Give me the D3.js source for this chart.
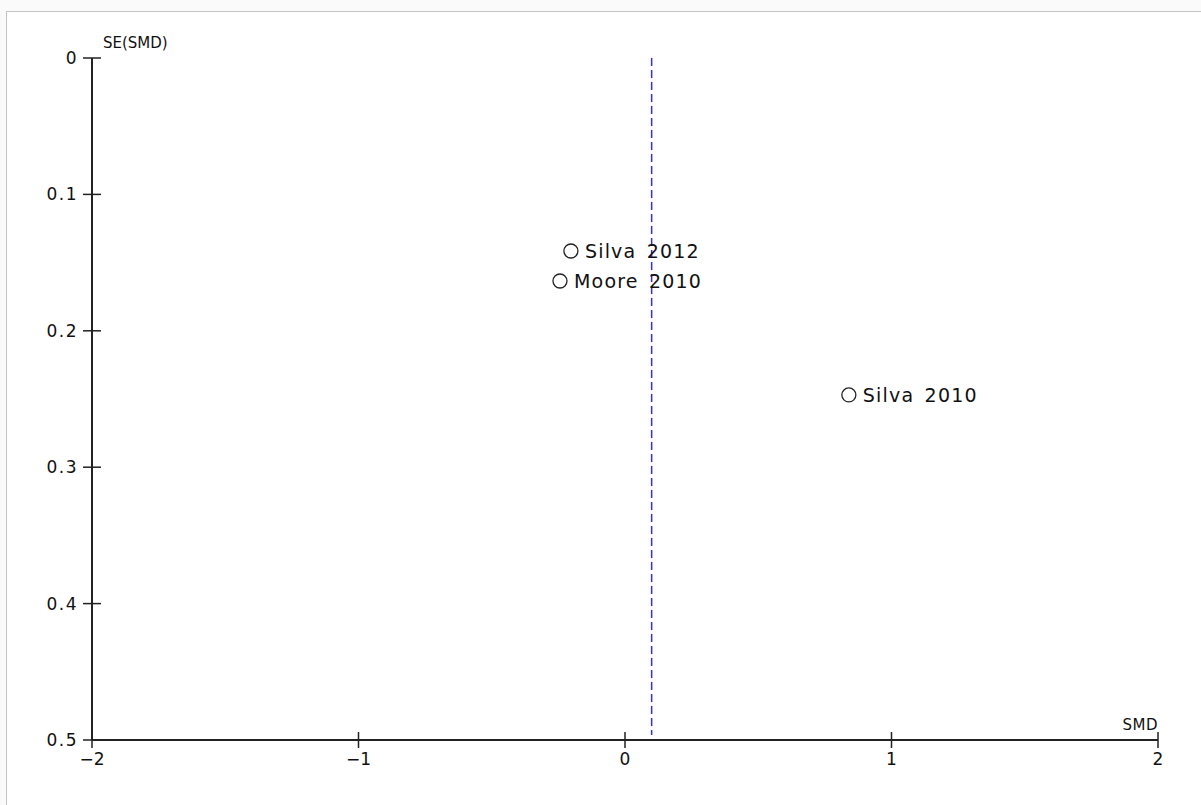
<!DOCTYPE html>
<html>
<head>
<meta charset="utf-8">
<script src="https://cdn.jsdelivr.net/npm/d3@7"></script>
<style>
  body { margin: 0; background: #fafafa; }
  #frame { position: absolute; left: 6px; top: 11px; width: 1195px; height: 794px;
           background: #fff; border-top: 1px solid #c4c4c4; border-left: 1px solid #c4c4c4; }
  svg { display: block; }
  text { font-family: "DejaVu Sans", sans-serif; fill: #111; }
</style>
</head>
<body>
<div id="frame"></div>
<svg id="chart" width="1201" height="805" style="position:absolute;left:0;top:0"></svg>
<script>
// studies (funnel plot)
const studies = ["Silva 2012", "Moore 2010", "Silva 2010"];
const smd = [-0.203, -0.244, 0.84];
const se = [0.1415, 0.1635, 0.247];
const pooled = 0.1;

const xTicks = [-2, -1, 0, 1, 2];
const yTicks = [0, 0.1, 0.2, 0.3, 0.4, 0.5];

const svg = d3.select("#chart");

const x = d3.scaleLinear().domain([-2, 2]).range([92, 1158]);
const y = d3.scaleLinear().domain([0, 0.5]).range([58, 740]);

// dashed line at pooled estimate
svg.append("line")
    .attr("x1", x(pooled)).attr("x2", x(pooled))
    .attr("y1", y(0)).attr("y2", y(0.5) - 5)
    .attr("stroke", "#3030f5")
    .attr("stroke-width", 1.5)
    .attr("stroke-dasharray", "8,4");

// y axis
const yAxis = svg.append("g");
yAxis.append("line")
    .attr("x1", x(-2)).attr("x2", x(-2))
    .attr("y1", y(0)).attr("y2", y(0.5))
    .attr("stroke", "#222").attr("stroke-width", 2);
yAxis.selectAll(".ytick")
    .data(yTicks)
    .enter().append("line")
    .attr("x1", x(-2) - 9).attr("x2", x(-2) + 9)
    .attr("y1", d => y(d)).attr("y2", d => y(d))
    .attr("stroke", "#222").attr("stroke-width", 1.5);
yAxis.selectAll(".ylab")
    .data(yTicks)
    .enter().append("text")
    .attr("x", x(-2) - 14)
    .attr("y", d => y(d) + 6)
    .attr("text-anchor", "end")
    .style("font-size", "17px")
    .style("letter-spacing", "1.5px")
    .text(d => d === 0 ? "0" : d3.format(".1f")(d));

// x axis
const xAxis = svg.append("g");
xAxis.append("line")
    .attr("x1", x(-2)).attr("x2", x(2))
    .attr("y1", y(0.5)).attr("y2", y(0.5))
    .attr("stroke", "#222").attr("stroke-width", 2);
xAxis.selectAll(".xtick")
    .data(xTicks)
    .enter().append("line")
    .attr("x1", d => x(d)).attr("x2", d => x(d))
    .attr("y1", y(0.5) - 8).attr("y2", y(0.5) + 8)
    .attr("stroke", "#222").attr("stroke-width", 1.5);
xAxis.selectAll(".xlab")
    .data(xTicks)
    .enter().append("text")
    .attr("x", d => x(d))
    .attr("y", y(0.5) + 25)
    .attr("text-anchor", "middle")
    .style("font-size", "17px")
    .text(d => d < 0 ? "\u2212" + Math.abs(d) : String(d));

// axis titles
svg.append("text")
    .attr("x", x(-2) + 11).attr("y", y(0) - 10)
    .style("font-size", "15px")
    .text("SE(SMD)");
svg.append("text")
    .attr("x", x(2)).attr("y", y(0.5) - 10)
    .attr("text-anchor", "end")
    .style("font-size", "15px")
    .style("letter-spacing", "0.5px")
    .text("SMD");

// points
const data = studies.map((s, i) => ({ name: s, smd: smd[i], se: se[i] }));

svg.selectAll(".pt")
    .data(data)
    .enter().append("circle")
    .attr("cx", d => x(d.smd))
    .attr("cy", d => y(d.se))
    .attr("r", 7)
    .attr("fill", "none")
    .attr("stroke", "#222")
    .attr("stroke-width", 1.3);

svg.selectAll(".ptlab")
    .data(data)
    .enter().append("text")
    .attr("x", d => x(d.smd) + 14)
    .attr("y", d => y(d.se) + 7)
    .style("font-size", "19px")
    .style("letter-spacing", "1.2px")
    .style("word-spacing", "3px")
    .text(d => d.name);
</script>
</body>
</html>
